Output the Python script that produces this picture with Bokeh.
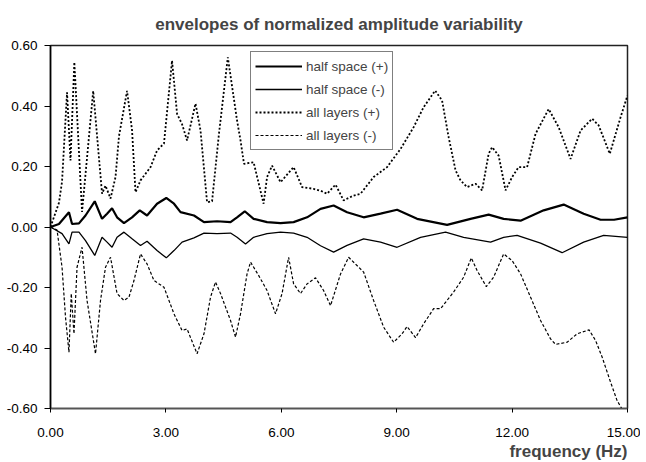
from bokeh.plotting import figure
from bokeh.models import FixedTicker, PrintfTickFormatter, Range1d, Title, Legend, LegendItem
from bokeh.embed import file_html
from bokeh.resources import INLINE

# ---- data ----
hs_pos_f = [0.0, 0.22, 0.48, 0.56, 0.74, 0.91, 1.15, 1.34, 1.47, 1.60, 1.73, 1.91, 2.12, 2.32, 2.51, 2.77,
            3.01, 3.21, 3.38, 3.73, 3.99, 4.33, 4.68, 4.85, 5.05, 5.28, 5.63, 5.98, 6.32, 6.67, 7.02,
            7.36, 7.71, 8.14, 8.58, 9.01, 9.53, 10.31, 10.92, 11.39, 11.78, 12.22, 12.82, 13.34, 13.86,
            14.30, 14.65, 15.0]
hs_pos_v = [0.0, 0.010, 0.049, 0.010, 0.012, 0.038, 0.085, 0.027, 0.044, 0.062, 0.032, 0.013, 0.032, 0.055,
            0.038, 0.077, 0.096, 0.077, 0.049, 0.038, 0.016, 0.019, 0.016, 0.032, 0.052, 0.027, 0.016,
            0.013, 0.016, 0.032, 0.060, 0.071, 0.049, 0.032, 0.044, 0.057, 0.027, 0.007, 0.027, 0.041,
            0.027, 0.021, 0.055, 0.074, 0.044, 0.024, 0.024, 0.032]

hs_neg_f = [0.0, 0.30, 0.48, 0.56, 0.74, 0.91, 1.15, 1.34, 1.47, 1.60, 1.73, 1.91, 2.12, 2.34, 2.51, 2.77,
            3.01, 3.21, 3.42, 3.73, 3.99, 4.33, 4.68, 4.85, 5.07, 5.28, 5.63, 5.98, 6.32, 6.67, 7.02,
            7.36, 7.71, 8.14, 8.58, 9.01, 9.62, 10.27, 10.74, 11.44, 11.78, 12.13, 12.74, 13.30, 13.86,
            14.38, 15.0]
hs_neg_v = [0.0, -0.022, -0.056, -0.017, -0.017, -0.045, -0.094, -0.034, -0.050, -0.067, -0.034, -0.017,
            -0.039, -0.061, -0.047, -0.078, -0.102, -0.078, -0.050, -0.036, -0.020, -0.022, -0.020,
            -0.034, -0.056, -0.034, -0.022, -0.017, -0.020, -0.034, -0.062, -0.083, -0.061, -0.039,
            -0.050, -0.067, -0.034, -0.017, -0.034, -0.050, -0.034, -0.028, -0.053, -0.085, -0.050,
            -0.028, -0.034]

al_pos_f = [0.0, 0.22, 0.30, 0.43, 0.52, 0.62, 0.82, 1.11, 1.34, 1.43, 1.56, 1.69, 1.78, 1.99, 2.12, 2.21,
            2.34, 2.60, 2.77, 2.95, 3.16, 3.29, 3.42, 3.55, 3.77, 3.90, 4.07, 4.20, 4.38, 4.61, 4.85,
            4.94, 5.03, 5.28, 5.54, 5.63, 5.76, 5.98, 6.32, 6.54, 6.84, 7.02, 7.19, 7.41, 7.62, 7.88,
            8.06, 8.40, 8.75, 9.10, 9.44, 9.70, 10.00, 10.18, 10.35, 10.53, 10.66, 10.83, 11.05, 11.22,
            11.39, 11.48, 11.65, 11.83, 12.00, 12.17, 12.39, 12.61, 12.95, 13.21, 13.52, 13.78, 14.08,
            14.25, 14.54, 14.82, 15.0]
al_pos_v = [0.0, 0.08, 0.15, 0.445, 0.22, 0.545, 0.05, 0.45, 0.11, 0.137, 0.094, 0.165, 0.30, 0.45, 0.32,
            0.115, 0.154, 0.198, 0.253, 0.276, 0.55, 0.374, 0.34, 0.286, 0.408, 0.319, 0.082, 0.085,
            0.309, 0.561, 0.352, 0.286, 0.209, 0.214, 0.077, 0.165, 0.203, 0.148, 0.198, 0.132, 0.126,
            0.120, 0.110, 0.140, 0.088, 0.104, 0.110, 0.165, 0.198, 0.258, 0.330, 0.396, 0.451, 0.418,
            0.297, 0.187, 0.154, 0.132, 0.143, 0.121, 0.242, 0.264, 0.236, 0.121, 0.165, 0.198, 0.198,
            0.308, 0.390, 0.330, 0.225, 0.319, 0.358, 0.336, 0.242, 0.363, 0.435]

al_neg_f = [0.0, 0.17, 0.30, 0.39, 0.48, 0.54, 0.61, 0.69, 0.82, 0.95, 1.17, 1.30, 1.43, 1.56, 1.73, 1.91,
            2.04, 2.17, 2.34, 2.51, 2.69, 2.95, 3.21, 3.42, 3.55, 3.81, 3.99, 4.16, 4.29, 4.42, 4.68,
            4.81, 4.94, 5.11, 5.20, 5.41, 5.63, 5.85, 6.02, 6.19, 6.32, 6.50, 6.67, 6.89, 7.10, 7.28,
            7.54, 7.75, 8.14, 8.40, 8.66, 8.92, 9.14, 9.27, 9.49, 9.70, 9.96, 10.14, 10.48, 10.74,
            10.94, 11.09, 11.33, 11.52, 11.78, 12.00, 12.22, 12.48, 12.74, 13.00, 13.13, 13.43, 13.69,
            14.00, 14.17, 14.34, 14.56, 14.73, 14.85, 15.0]
al_neg_v = [0.0, -0.010, -0.133, -0.298, -0.414, -0.220, -0.353, -0.133, -0.067, -0.243, -0.419, -0.243,
            -0.133, -0.100, -0.220, -0.243, -0.232, -0.177, -0.089, -0.122, -0.177, -0.199, -0.287,
            -0.342, -0.337, -0.419, -0.353, -0.232, -0.182, -0.220, -0.309, -0.364, -0.287, -0.155,
            -0.116, -0.160, -0.210, -0.287, -0.220, -0.100, -0.188, -0.220, -0.188, -0.168, -0.210,
            -0.260, -0.155, -0.100, -0.149, -0.243, -0.331, -0.381, -0.353, -0.329, -0.366, -0.320,
            -0.270, -0.270, -0.215, -0.166, -0.102, -0.144, -0.197, -0.166, -0.089, -0.111, -0.155,
            -0.232, -0.309, -0.370, -0.388, -0.381, -0.353, -0.340, -0.375, -0.430, -0.513, -0.574,
            -0.600, -0.650]

x_ticks = [0, 3, 6, 9, 12, 15]
y_ticks = [-0.6, -0.4, -0.2, 0.0, 0.2, 0.4, 0.6]
series_labels = ["half space (+)", "half space (-)", "all layers (+)", "all layers (-)"]

FONT = "Liberation Sans"

p = figure(width=640, height=462, output_backend="svg", toolbar_location=None,
           x_range=Range1d(0, 15), y_range=Range1d(-0.6, 0.6),
           min_border_left=50, min_border_right=13, min_border_top=45, min_border_bottom=54)

p.title.text = "envelopes of normalized amplitude variability"
p.title.text_font = FONT
p.title.text_font_size = "17px"
p.title.text_font_style = "bold"
p.title.align = "center"
p.title.offset = 0
p.title.standoff = 23

p.xgrid.visible = False
p.ygrid.visible = False
p.outline_line_color = "#222222"
p.outline_line_width = 1.5
p.background_fill_color = "white"
p.border_fill_color = "white"

for ax in (p.xaxis[0], p.yaxis[0]):
    ax.axis_line_color = "black"
    ax.axis_line_width = 1.5
    ax.major_tick_line_color = "black"
    ax.minor_tick_line_color = None
    ax.major_tick_in = 0
    ax.major_label_text_font = FONT
    ax.major_label_text_font_size = "13.5px"
    ax.major_label_text_color = "black"
    ax.formatter = PrintfTickFormatter(format="%.2f")

p.xaxis.ticker = FixedTicker(ticks=x_ticks)
p.yaxis.ticker = FixedTicker(ticks=y_ticks)
p.xaxis.major_tick_out = 4
p.yaxis.major_tick_out = 6
p.xaxis.major_label_standoff = 15
p.yaxis.major_label_standoff = 7
p.xaxis.axis_line_color = "#555555"

xlab = Title(text="frequency (Hz)", align="right", text_font=FONT, text_font_size="17px",
             text_font_style="bold", offset=0, standoff=1)
p.add_layout(xlab, "below")

r1 = p.line(hs_pos_f, hs_pos_v, line_color="black", line_width=2.2)
r2 = p.line(hs_neg_f, hs_neg_v, line_color="black", line_width=1.3)
r3 = p.line(al_pos_f, al_pos_v, line_color="black", line_width=1.8, line_dash="2 2")
r4 = p.line(al_neg_f, al_neg_v, line_color="black", line_width=1.2, line_dash="3 2")

legend = Legend(items=[LegendItem(label=series_labels[i], renderers=[r]) for i, r in enumerate([r1, r2, r3, r4])],
                location=(200, 258), orientation="vertical")
legend.label_text_font = FONT
legend.label_text_font_size = "13.5px"
legend.label_height = 20
legend.glyph_height = 20
legend.glyph_width = 47
legend.label_standoff = 4
legend.spacing = 3
legend.padding = 4
legend.margin = 0
legend.border_line_color = "black"
legend.border_line_width = 1
legend.background_fill_alpha = 1
p.add_layout(legend, "center")

open("out.html", "w").write(file_html(p, INLINE))
